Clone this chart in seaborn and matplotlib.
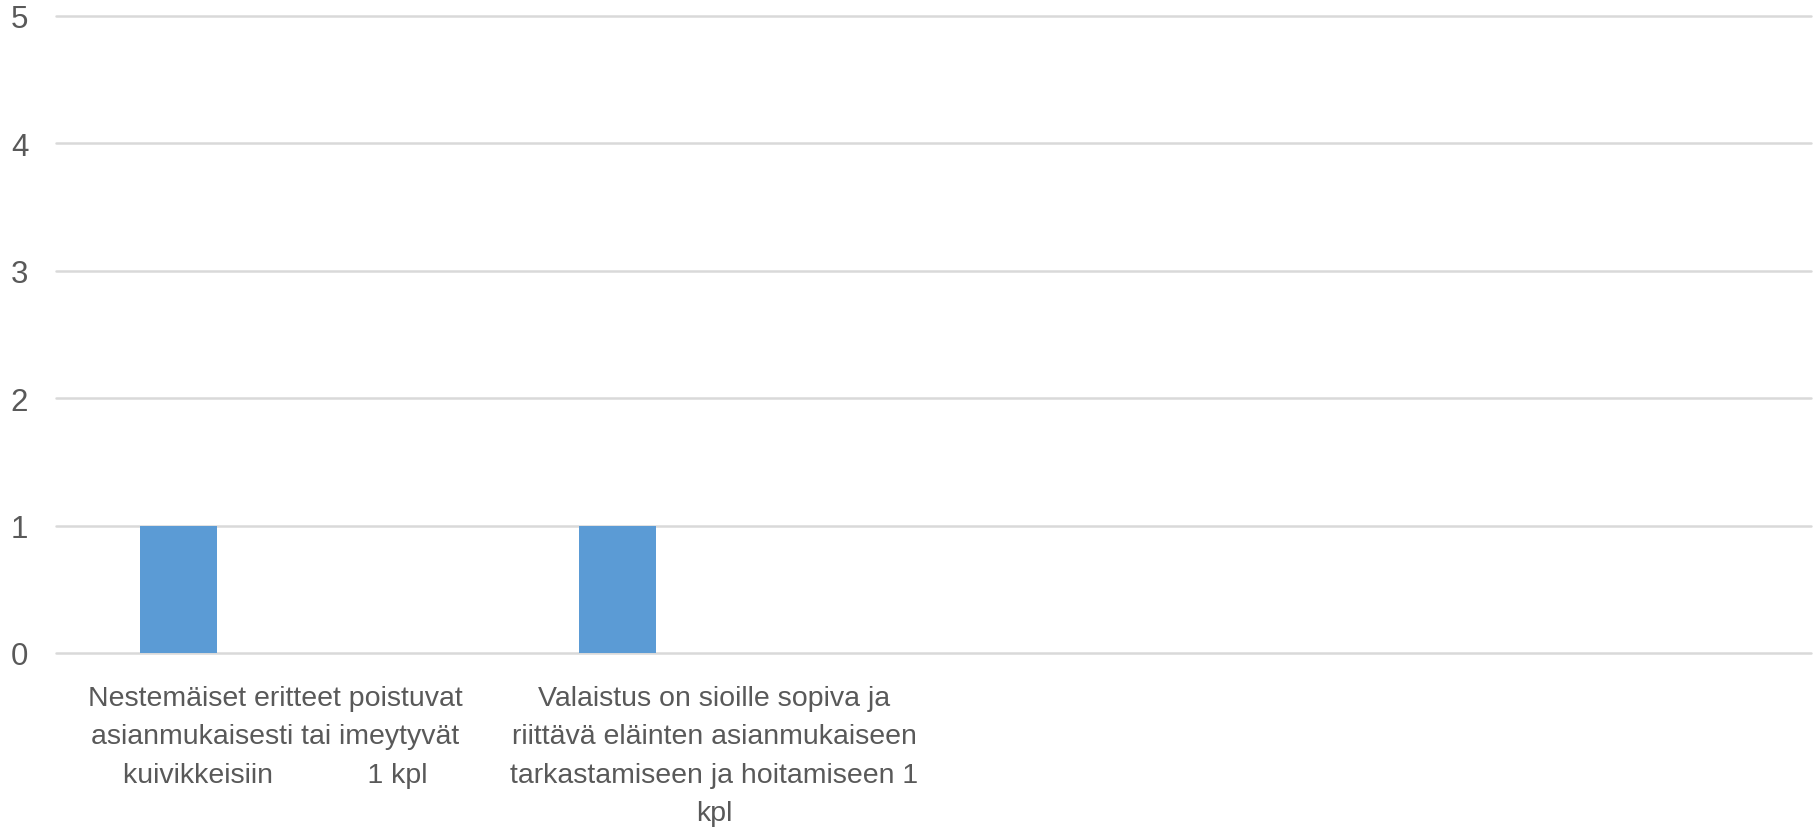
import matplotlib
matplotlib.use('Agg')
import matplotlib.pyplot as plt
import seaborn as sns
import pandas as pd

# kategoriat ja arvot
categories = [
    'Nestemäiset eritteet poistuvat\nasianmukaisesti tai imeytyvät\nkuivikkeisiin            1 kpl',
    'Valaistus on sioille sopiva ja\nriittävä eläinten asianmukaiseen\ntarkastamiseen ja hoitamiseen 1\nkpl',
    ' ',
    '  ',
]
values = [1, 1, 0, 0]
y_ticks = [0, 1, 2, 3, 4, 5]

df = pd.DataFrame({'kohta': categories, 'kpl': values})

sns.set_theme(style='white')
plt.rcParams['font.family'] = ['Liberation Sans', 'DejaVu Sans']

fig = plt.figure(figsize=(18.18, 8.29), dpi=100)
ax = fig.add_axes([56 / 1818, 1 - 654 / 829, (1811 - 56) / 1818, (654 - 17) / 829])

sns.barplot(x='kohta', y='kpl', data=df, color='#5B9BD5', width=0.175,
            saturation=1, ax=ax, zorder=3)

# Excel-tyylinen siirto vasemmalle kategoriassa
for p in ax.patches:
    p.set_x(p.get_x() - 0.221)
    p.set_linewidth(0)

ax.set_xlim(-0.5, len(categories) - 0.5)
ax.set_ylim(0, 5)
ax.set_yticks(y_ticks)
ax.yaxis.grid(True, color='#d9d9d9', linewidth=1.8, zorder=0)
for l in ax.get_ygridlines():
    l.set_clip_on(False)
ax.set_axisbelow(True)
for s in ax.spines.values():
    s.set_visible(False)

ax.tick_params(axis='y', length=0, pad=20, labelsize=22.5, labelcolor='#595959')
ax.tick_params(axis='x', length=0, pad=23, labelsize=20.5, labelcolor='#595959')
for t in ax.get_xticklabels():
    t.set_linespacing(1.62)
ax.set_xlabel('')
ax.set_ylabel('')

fig.savefig('out.png', dpi=100)
